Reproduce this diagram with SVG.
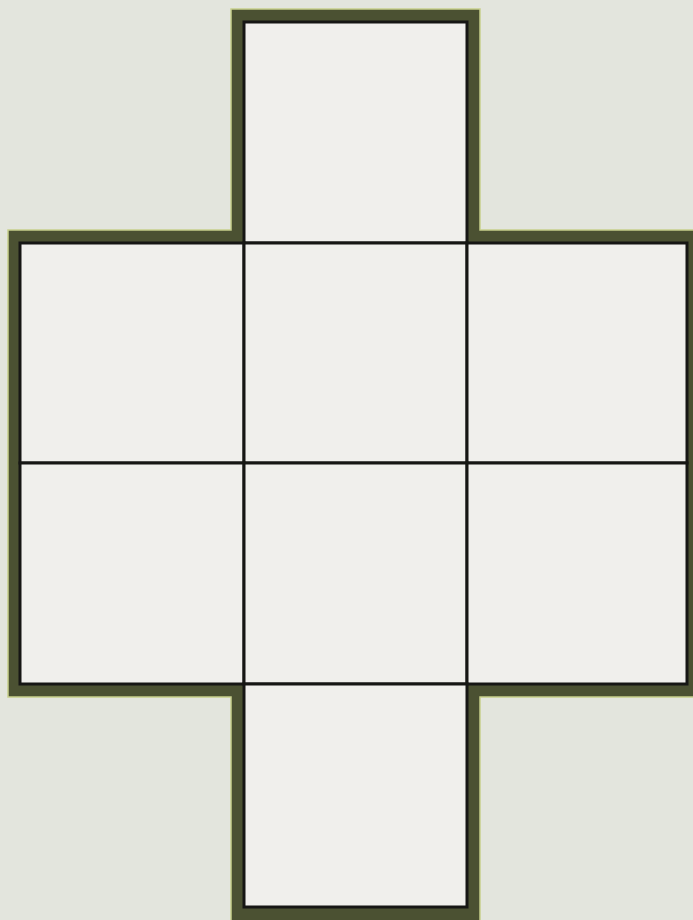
<svg xmlns="http://www.w3.org/2000/svg" width="693" height="920" viewBox="0 0 693 920">
  <style>
    .cell { fill: #f0efec; stroke: #161614; stroke-width: 3; }
    .band { fill: #4b5132; stroke: #c8cf8c; stroke-width: 1.5; stroke-linejoin: miter; }
  </style>
  <rect x="0" y="0" width="693" height="920" fill="#e3e5dd"/>
  <g id="outline">
    <path class="band" d="M231,9 H480 V230 H702 V697 H480 V922 H231 V697 H8 V230 H231 Z"/>
  </g>
  <g id="cell-top"><rect class="cell" x="244" y="22" width="223" height="221"/></g>
  <g id="cell-r1c1"><rect class="cell" x="20" y="243" width="224" height="220"/></g>
  <g id="cell-r1c2"><rect class="cell" x="244" y="243" width="223" height="220"/></g>
  <g id="cell-r1c3"><rect class="cell" x="467" y="243" width="220" height="220"/></g>
  <g id="cell-r2c1"><rect class="cell" x="20" y="463" width="224" height="221"/></g>
  <g id="cell-r2c2"><rect class="cell" x="244" y="463" width="223" height="221"/></g>
  <g id="cell-r2c3"><rect class="cell" x="467" y="463" width="220" height="221"/></g>
  <g id="cell-bottom"><rect class="cell" x="244" y="684" width="223" height="223"/></g>
  <g id="connectors"></g>
</svg>
